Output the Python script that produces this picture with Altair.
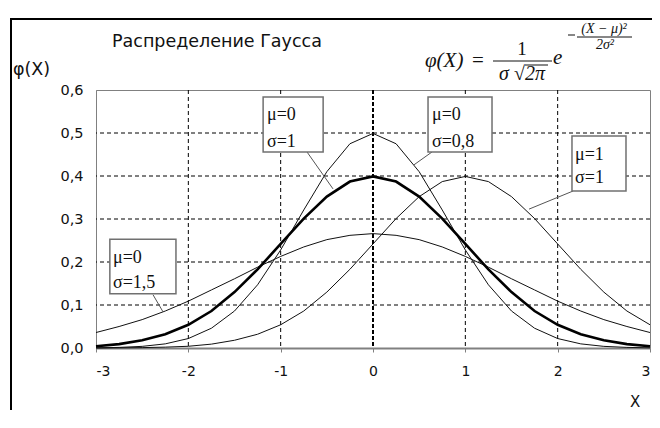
import altair as alt
import pandas as pd

# ---- data ----
x_vals = [-3.0, -2.75, -2.5, -2.25, -2.0, -1.75, -1.5, -1.25, -1.0, -0.75, -0.5, -0.25, 0.0,
          0.25, 0.5, 0.75, 1.0, 1.25, 1.5, 1.75, 2.0, 2.25, 2.5, 2.75, 3.0]
phi_m0_s1 = [0.004, 0.009, 0.018, 0.032, 0.054, 0.086, 0.130, 0.183, 0.242, 0.301, 0.352, 0.387, 0.399,
             0.387, 0.352, 0.301, 0.242, 0.183, 0.130, 0.086, 0.054, 0.032, 0.018, 0.009, 0.004]
phi_m0_s08 = [0.0004, 0.0014, 0.0038, 0.0096, 0.022, 0.046, 0.086, 0.147, 0.228, 0.321, 0.410, 0.475, 0.499,
              0.475, 0.410, 0.321, 0.228, 0.147, 0.086, 0.046, 0.022, 0.0096, 0.0038, 0.0014, 0.0004]
phi_m1_s1 = [0.0001, 0.0004, 0.0009, 0.002, 0.004, 0.009, 0.018, 0.032, 0.054, 0.086, 0.130, 0.183, 0.242,
             0.301, 0.352, 0.387, 0.399, 0.387, 0.352, 0.301, 0.242, 0.183, 0.130, 0.086, 0.054]
phi_m0_s15 = [0.036, 0.050, 0.066, 0.086, 0.109, 0.135, 0.161, 0.188, 0.213, 0.235, 0.252, 0.262, 0.266,
              0.262, 0.252, 0.235, 0.213, 0.188, 0.161, 0.135, 0.109, 0.086, 0.066, 0.050, 0.036]
x_ticks = [-3, -2, -1, 0, 1, 2, 3]
y_ticks = [0.0, 0.1, 0.2, 0.3, 0.4, 0.5, 0.6]
grid_x = [-2, -1, 1, 2]
grid_y = [0.1, 0.2, 0.3, 0.4, 0.5]
label_line1 = ["μ=0", "μ=0", "μ=1", "μ=0"]
label_line2 = ["σ=1", "σ=0,8", "σ=1", "σ=1,5"]

title_text = "Распределение Гаусса"
y_title = "φ(X)"
x_title = "X"

# ---- tables ----
thin = pd.concat([
    pd.DataFrame({"x": x_vals, "y": phi_m0_s08, "s": "m0s08"}),
    pd.DataFrame({"x": x_vals, "y": phi_m1_s1, "s": "m1s1"}),
    pd.DataFrame({"x": x_vals, "y": phi_m0_s15, "s": "m0s15"}),
])
thick = pd.DataFrame({"x": x_vals, "y": phi_m0_s1})

# annotation layout (boxes, leaders, text anchors) in data units
boxes = pd.DataFrame({
    "x1": [-1.19, 0.596, 2.155, -2.85], "x2": [-0.54, 1.289, 2.74, -2.134],
    "y1": [0.584, 0.584, 0.493, 0.253], "y2": [0.456, 0.456, 0.365, 0.126],
})
leaders = pd.DataFrame({
    "x1": [-0.715, 0.64, 2.166, -2.383], "y1": [0.456, 0.456, 0.365, 0.124],
    "x2": [-0.433, 0.444, 1.69, -2.274], "y2": [0.370, 0.426, 0.323, 0.084],
})
tx = [-1.148, 0.639, 2.188, -2.816]
ty1 = [0.530, 0.530, 0.437, 0.198]
ty2 = [0.467, 0.467, 0.384, 0.140]
box_text = pd.DataFrame({
    "x": tx + tx, "y": ty1 + ty2, "t": label_line1 + label_line2,
})

xs = alt.Scale(domain=[-3, 3], nice=False, zero=False)
ys = alt.Scale(domain=[0, 0.6], nice=False)
x_axis = alt.Axis(values=x_ticks, grid=False, title=None, domainColor="#808080", domainWidth=2,
                  tickColor="#808080", tickSize=4, tickWidth=1, labelFont="DejaVu Sans",
                  labelFontSize=14, labelColor="#111", labelPadding=12,
                  labelExpr="datum.value < 0 ? '-' + abs(datum.value) : '' + datum.value")
y_axis = alt.Axis(values=y_ticks, grid=False, title=None, domainColor="#808080", domainWidth=1,
                  ticks=False, labelFont="DejaVu Sans", labelFontSize=14.5, labelColor="#111",
                  labelPadding=13, labelExpr="replace(format(datum.value, '.1f'), '.', ',')")

X = lambda f: alt.X(f, type="quantitative", scale=xs, axis=x_axis)
Y = lambda f: alt.Y(f, type="quantitative", scale=ys, axis=y_axis)

one = pd.DataFrame({"a": [0]})

gx = alt.Chart(pd.DataFrame({"gx": grid_x})).mark_rule(color="#000", strokeWidth=1, strokeDash=[4, 3]).encode(x=X("gx"))
gy = alt.Chart(pd.DataFrame({"gy": grid_y})).mark_rule(color="#000", strokeWidth=1, strokeDash=[4, 3]).encode(y=Y("gy"))
g0 = alt.Chart(pd.DataFrame({"gx": [0]})).mark_rule(color="#000", strokeWidth=2, strokeDash=[4, 2]).encode(x=X("gx"))

thin_lines = alt.Chart(thin).mark_line(color="#111", strokeWidth=1).encode(x=X("x"), y=Y("y"), detail="s:N")
thick_line = alt.Chart(thick).mark_line(color="#000", strokeWidth=2.6).encode(x=X("x"), y=Y("y"))

lead = alt.Chart(leaders).mark_rule(color="#555", strokeWidth=1).encode(x=X("x1"), y=Y("y1"), x2="x2", y2="y2")
rects = alt.Chart(boxes).mark_rect(fill="white", stroke="#707070", strokeWidth=1.5).encode(
    x=X("x1"), x2="x2", y=Y("y1"), y2="y2")
btxt = alt.Chart(box_text).mark_text(align="left", baseline="alphabetic", font="Liberation Serif",
                                     fontSize=18, color="#111").encode(x=X("x"), y=Y("y"), text="t:N")


def txt(text, px, py, size, font="DejaVu Sans", style="normal", align="left"):
    return alt.Chart(one).mark_text(text=text, align=align, baseline="alphabetic", font=font,
                                    fontSize=size, fontStyle=style, color="#111").encode(
        x=alt.value(px), y=alt.value(py))


def hline(x1, x2, y, w=1, color="#111"):
    return alt.Chart(one).mark_rule(color=color, strokeWidth=w).encode(
        x=alt.value(x1), x2=alt.value(x2), y=alt.value(y))


def vline(x, y1, y2, w=1, color="#111"):
    return alt.Chart(one).mark_rule(color=color, strokeWidth=w).encode(
        x=alt.value(x), y=alt.value(y1), y2=alt.value(y2))


serif = "Liberation Serif"
ann = [
    txt(title_text, 16, -43, 17.5),
    txt(y_title, -83, -15, 17.5),
    txt(x_title, 534, 317, 15),
    txt("φ(X)", 329, -23, 21, serif, "italic"),
    txt("=", 376, -23, 21, serif),
    txt("1", 426, -35, 19, serif, align="center"),
    hline(397, 456, -29),
    txt("σ √2π", 426, -10, 20, serif, "italic", align="center"),
    hline(429, 452, -25),
    txt("e", 457, -26, 21, serif, "italic"),
    hline(472, 479, -55),
    hline(481, 536, -53),
    txt("(X − μ)²", 508, -57, 14, serif, "italic", align="center"),
    txt("2σ²", 509, -41, 14, serif, "italic", align="center"),
    hline(-86, 600, -71, 2, "#000"),
    vline(-85, -72, 400, 2, "#000"),
]

chart = alt.layer(gx, gy, g0, thin_lines, thick_line, lead, rects, btxt, *ann).properties(
    width=554, height=258,
    autosize=alt.AutoSizeParams(type="none"),
    padding={"left": 88, "top": 82, "right": 2, "bottom": 62},
    background="white",
).configure_view(stroke="#808080", strokeWidth=1)

chart.save("out.html", embed_options={"renderer": "svg", "actions": False})
